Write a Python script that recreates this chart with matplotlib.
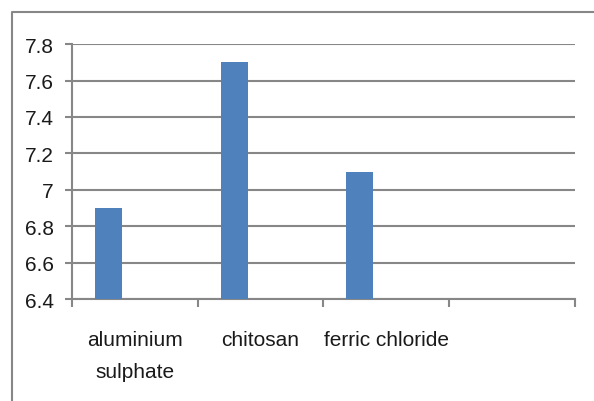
import matplotlib.pyplot as plt
from matplotlib.lines import Line2D

plt.rcParams['font.family'] = ['Liberation Sans Narrow', 'Liberation Sans', 'DejaVu Sans']

categories = ['aluminium\nsulphate', 'chitosan', 'ferric chloride', '']
values = [6.9, 7.7, 7.1]
yticks = [6.4, 6.6, 6.8, 7.0, 7.2, 7.4, 7.6, 7.8]
ytick_labels = ['6.4', '6.6', '6.8', '7', '7.2', '7.4', '7.6', '7.8']

grey = '#878787'
fig = plt.figure(figsize=(5.94, 4.02), dpi=100)
ax = fig.add_axes([0.1212, 0.2537, 0.8468, 0.634])

# bars sit at the left of each category slot
pos = [i + 0.29 for i in range(len(values))]
ax.bar(pos, [v - 6.4 for v in values], bottom=6.4, width=0.215,
       color='#4F81BD', zorder=3)

ax.set_xlim(0, len(categories))
ax.set_ylim(6.4, 7.8)
ax.set_yticks(yticks)
ax.set_yticklabels(ytick_labels, fontsize=15)
ax.yaxis.grid(True, color=grey, linewidth=1.5)
ax.set_axisbelow(True)

ax.set_xticks(range(len(categories) + 1))
ax.set_xticklabels([])
ax.set_xticks([i + 0.5 for i in range(len(categories))], minor=True)
ax.set_xticklabels(categories, minor=True, fontsize=15, linespacing=1.9)
ax.tick_params(axis='x', which='major', length=6, width=1.5, color=grey)
ax.tick_params(axis='x', which='minor', length=0, pad=22,
               labelcolor='#1a1a1a')
ax.tick_params(axis='y', length=5, width=1.5, color=grey, pad=8,
               labelcolor='#1a1a1a')

for s in ['top', 'right']:
    ax.spines[s].set_visible(False)
for s in ['left', 'bottom']:
    ax.spines[s].set_color(grey)
    ax.spines[s].set_linewidth(1.5)

# chart frame
fig.add_artist(Line2D([12 / 594, 12 / 594, 1], [0, 1 - 13 / 402, 1 - 13 / 402],
                      transform=fig.transFigure, color=grey, linewidth=1.5))

fig.savefig('out.png', dpi=100)
